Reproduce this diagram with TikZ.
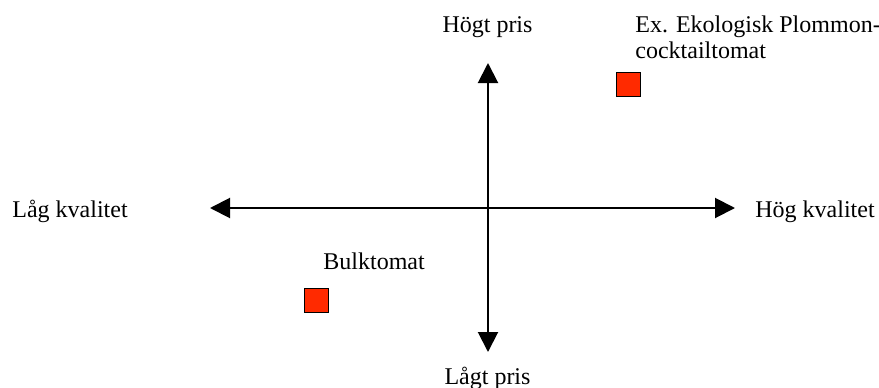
\documentclass[tikz,border=0pt]{standalone}
\usepackage{fontspec}
\setmainfont{Liberation Serif}
\usetikzlibrary{arrows.meta}

\definecolor{tomatred}{RGB}{255,42,0}

\tikzset{
	axis/.style={line width=1pt, {Triangle[length=10pt,width=10pt]}-{Triangle[length=10pt,width=10pt]}},
	product/.style={draw, line width=0.6pt, fill=tomatred, minimum size=12pt, inner sep=0pt},
	axtext/.style={inner sep=0pt, font=\fontsize{12}{14}\selectfont}
}

\begin{document}
\begin{tikzpicture}[x=0.5pt, y=0.5pt]
	\useasboundingbox (0,0) rectangle (879,387);

	\coordinate (lq) at (210,179);
	\coordinate (hq) at (735,179);
	\coordinate (lp) at (488,35);
	\coordinate (hp) at (488,324);

	\draw[axis] (lq) -- (hq);
	\draw[axis] (lp) -- (hp);

	\node[product] (bulk) at (316.5,86.5) {};
	\node[product] (eko)  at (628.5,302.5) {};

	\node[axtext, anchor=base] (hogpris) at (487.5,355) {Högt pris};
	\node[axtext, anchor=base] (lagpris) at (487.5,3) {Lågt pris};
	\node[axtext, anchor=base west] (hogkval) at (755,170) {Hög kvalitet};
	\node[axtext, anchor=base west] (lagkval) at (12,170) {Låg kvalitet};
	\node[axtext, anchor=base west] (bulktext) at (323,118) {Bulktomat};
	\node[axtext, anchor=base west] (ekotext1) at (635,355) {Ex. Ekologisk Plommon-};
	\node[axtext, anchor=base west] (ekotext2) at (635,329) {cocktailtomat};
\end{tikzpicture}
\end{document}
